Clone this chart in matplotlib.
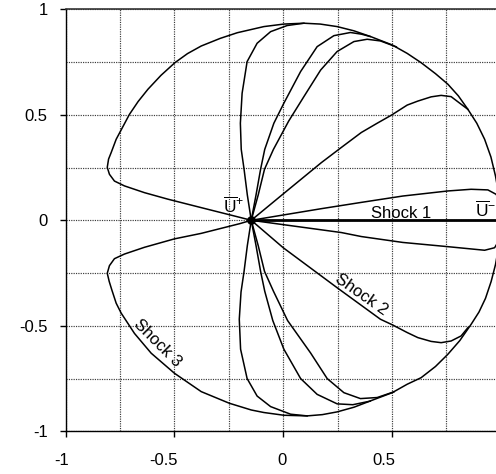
import matplotlib
matplotlib.use('Agg')
import matplotlib.pyplot as plt
import matplotlib.transforms as mtransforms
import numpy as np

# states
u_plus = (-0.147, 0.0)
shock1_x = [-0.147, 1.0]
shock1_y = [0.0, 0.0]

# outer curve (shock 3), upper and lower halves
outer_up_x = [-0.147, -0.2, -0.377, -0.53, -0.638, -0.73, -0.776, -0.799, -0.809, -0.803, -0.791,
              -0.768, -0.707, -0.667, -0.622, -0.562, -0.498, -0.44, -0.377, -0.29, -0.211, -0.089,
              0.003, 0.095, 0.17, 0.248, 0.325, 0.401, 0.501, 0.57, 0.634, 0.7, 0.757, 0.805,
              0.849, 0.89, 0.926, 0.955, 0.976, 0.995, 1.0]
outer_up_y = [0.0, 0.014, 0.06, 0.1, 0.131, 0.163, 0.186, 0.218, 0.251, 0.29, 0.321,
              0.384, 0.502, 0.563, 0.621, 0.687, 0.747, 0.79, 0.826, 0.862, 0.889, 0.918,
              0.93, 0.934, 0.93, 0.918, 0.898, 0.871, 0.831, 0.791, 0.747, 0.695, 0.645, 0.59,
              0.526, 0.46, 0.384, 0.3, 0.21, 0.1, 0.0]
outer_lo_x = [-0.147, -0.2, -0.377, -0.5, -0.638, -0.73, -0.776, -0.799, -0.809, -0.8, -0.788,
              -0.768, -0.745, -0.684, -0.607, -0.5, -0.377, -0.248, -0.147, -0.089, 0.003, 0.11,
              0.18, 0.248, 0.325, 0.401, 0.501, 0.57, 0.634, 0.7, 0.757, 0.812, 0.864, 0.9,
              0.93, 0.956, 0.976, 0.995, 1.0]
outer_lo_y = [0.0, -0.016, -0.062, -0.088, -0.128, -0.16, -0.182, -0.215, -0.251, -0.29, -0.33,
              -0.393, -0.44, -0.536, -0.63, -0.725, -0.812, -0.867, -0.899, -0.911, -0.924, -0.927,
              -0.921, -0.908, -0.886, -0.856, -0.817, -0.777, -0.746, -0.693, -0.635, -0.57, -0.493, -0.435,
              -0.37, -0.29, -0.21, -0.1, 0.0]

# inner lobes
a_up_x = [-0.147, -0.165, -0.18, -0.193, -0.197, -0.189, -0.166, -0.12, -0.058, 0.018, 0.095]
a_up_y = [0.0, 0.12, 0.242, 0.336, 0.46, 0.602, 0.752, 0.839, 0.894, 0.923, 0.934]
a_lo_x = [-0.147, -0.165, -0.18, -0.194, -0.202, -0.196, -0.166, -0.12, -0.058, 0.034, 0.11]
a_lo_y = [0.0, -0.12, -0.242, -0.34, -0.469, -0.611, -0.75, -0.833, -0.883, -0.919, -0.927]

b_up_x = [-0.147, -0.125, -0.104, -0.085, -0.043, 0.003, 0.08, 0.156, 0.233, 0.309, 0.36, 0.4]
b_up_y = [0.0, 0.12, 0.242, 0.336, 0.46, 0.555, 0.705, 0.823, 0.875, 0.89, 0.882, 0.871]
b_lo_x = [-0.147, -0.125, -0.104, -0.085, -0.048, 0.003, 0.08, 0.156, 0.248, 0.32, 0.4]
b_lo_y = [0.0, -0.12, -0.242, -0.336, -0.475, -0.611, -0.75, -0.825, -0.87, -0.874, -0.857]

c_up_x = [-0.147, -0.115, -0.086, -0.045, 0.025, 0.095, 0.172, 0.248, 0.325, 0.386, 0.447, 0.52]
c_up_y = [0.0, 0.12, 0.242, 0.336, 0.47, 0.586, 0.712, 0.8, 0.847, 0.858, 0.85, 0.822]
c_lo_x = [-0.147, -0.115, -0.086, -0.045, 0.02, 0.126, 0.202, 0.279, 0.355, 0.432, 0.509]
c_lo_y = [0.0, -0.12, -0.242, -0.336, -0.475, -0.629, -0.75, -0.817, -0.845, -0.84, -0.813]

d_up_x = [-0.147, 0.0, 0.175, 0.267, 0.359, 0.432, 0.497, 0.57, 0.619, 0.68, 0.726, 0.772, 0.818, 0.849]
d_up_y = [0.0, 0.125, 0.273, 0.345, 0.416, 0.46, 0.498, 0.546, 0.565, 0.585, 0.592, 0.586, 0.55, 0.526]
d_lo_x = [-0.147, 0.0, 0.251, 0.447, 0.503, 0.57, 0.619, 0.68, 0.726, 0.772, 0.818, 0.849]
d_lo_y = [0.0, -0.13, -0.322, -0.469, -0.496, -0.532, -0.556, -0.574, -0.58, -0.572, -0.548, -0.509]

e_up_x = [-0.147, 0.175, 0.36, 0.55, 0.757, 0.864, 0.941, 0.979, 0.995]
e_up_y = [0.0, 0.055, 0.085, 0.115, 0.139, 0.147, 0.144, 0.123, 0.09]
e_lo_x = [-0.147, 0.267, 0.359, 0.55, 0.757, 0.926, 0.972, 0.995]
e_lo_y = [0.0, -0.058, -0.077, -0.105, -0.125, -0.142, -0.13, -0.09]

ticks = [-1, -0.5, 0, 0.5, 1]
tick_labels = ['-1', '-0.5', '0', '0.5', '1']

plt.rcParams['font.family'] = ['Liberation Sans', 'DejaVu Sans']
plt.rcParams['mathtext.fontset'] = 'custom'
plt.rcParams['mathtext.rm'] = 'Liberation Sans'
plt.rcParams['mathtext.it'] = 'Liberation Sans:italic'
plt.rcParams['mathtext.bf'] = 'Liberation Sans:bold'

fig = plt.figure(figsize=(4.96, 4.74), dpi=100)
ax = fig.add_axes([0.1325, 0.0901, 0.877, 0.8903])

lw = 1.1
for xs, ys in [(outer_up_x, outer_up_y), (outer_lo_x, outer_lo_y),
               (a_up_x, a_up_y), (a_lo_x, a_lo_y),
               (b_up_x, b_up_y), (b_lo_x, b_lo_y),
               (c_up_x, c_up_y), (c_lo_x, c_lo_y),
               (d_up_x, d_up_y), (d_lo_x, d_lo_y),
               (e_up_x, e_up_y), (e_lo_x, e_lo_y)]:
  ax.plot(xs, ys, color='black', lw=lw, solid_joinstyle='round')

ax.plot(shock1_x, shock1_y, color='black', lw=2.0, solid_capstyle='butt')
ax.plot([u_plus[0]], [u_plus[1]], 'o', color='black', markersize=5.3)

# labels
fs = 12
ax.text(0.405, 0.013, 'Shock 1', fontsize=fs, ha='left', va='baseline')
ax.text(0.357, -0.35, 'Shock 2', fontsize=fs, ha='center', va='center',
        rotation=-35, rotation_mode='anchor')
ax.text(-0.577, -0.584, 'Shock 3', fontsize=fs, ha='center', va='center',
        rotation=-45, rotation_mode='anchor')
ax.text(-0.277, 0.036, r'$\overline{\mathrm{U}}^{+}$', fontsize=12.5, ha='left', va='baseline')
ax.text(0.88, 0.02, r'$\overline{\mathrm{U}}^{-}$', fontsize=12.5, ha='left', va='baseline')

ax.set_xlim(-1, 1)
ax.set_ylim(-1, 1)
ax.set_xticks(ticks[:-1])
ax.set_xticklabels(tick_labels[:-1])
ax.set_yticks(ticks)
ax.set_yticklabels(tick_labels)
ax.set_xticks(np.arange(-1, 1.01, 0.25), minor=True)
ax.set_yticks(np.arange(-1, 1.01, 0.25), minor=True)
ax.tick_params(which='major', length=4, width=1.0, labelsize=fs, direction='out')
ax.tick_params(which='minor', length=0)
ax.tick_params(axis='x', pad=11.5)
ax.tick_params(axis='y', pad=9)
ax.grid(which='both', color='#3a3a3a', lw=0.85, linestyle=(0, (1, 1)))

for s in ['left', 'bottom']:
  ax.spines[s].set_linewidth(1.0)
ax.spines['top'].set_color('#333333')
ax.spines['top'].set_linestyle((0, (1, 1)))
ax.spines['top'].set_linewidth(1.2)
ax.spines['right'].set_visible(False)

# x labels sit a bit left of their ticks in the original
offset = mtransforms.ScaledTranslation(0.035, 0, fig.dpi_scale_trans)
for lab in ax.get_xticklabels():
  lab.set_horizontalalignment('right')
  lab.set_transform(lab.get_transform() + offset)

fig.savefig('out.png', dpi=100)
plt.close(fig)
